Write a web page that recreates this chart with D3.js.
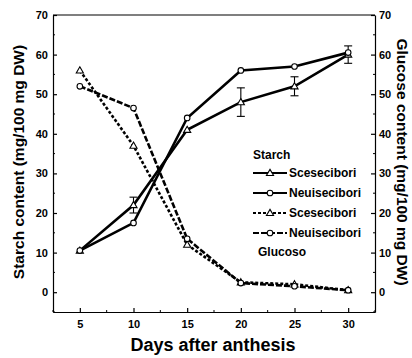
<!DOCTYPE html>
<html>
<head>
<meta charset="utf-8">
<script src="https://cdn.jsdelivr.net/npm/d3@7"></script>
<style>
    body { margin: 0; background: #fff; }
    svg { display: block; font-family: "Liberation Sans", Arial, sans-serif; font-weight: bold; }
    .axis path, .axis line { stroke: #000; stroke-width: 1.2; }
    .axis text { font-size: 11px; font-weight: bold; fill: #000; }
</style>
</head>
<body>
<div id="chart"></div>
<script>
// chart values
const days = [5, 10, 15, 20, 25, 30];
const starchSce = [10.5, 22, 41, 48, 52, 60];
const starchSceErr = [0, 2, 0, 3.6, 2.4, 2.2];
const starchNeu = [10.5, 17.5, 44, 56, 57, 60.5];
const glucoseSce = [56, 37, 12, 2.5, 2, 0.5];
const glucoseNeu = [52, 46.5, 13.5, 2.3, 1.5, 0.5];
const yTicks = [0, 10, 20, 30, 40, 50, 60, 70];
const legendLabels = ["Scesecibori", "Neuisecibori", "Scesecibori", "Neuisecibori"];

let width = 412, height = 358;

let svg = d3.select("#chart").append("svg")
    .attr("width", width)
    .attr("height", height);

let x = d3.scaleLinear().domain([2.5, 32.5]).range([53, 375]);
let y = d3.scaleLinear().domain([-5, 70]).range([312, 15]);

// frame top line
svg.append("line")
    .attr("x1", x(2.5)).attr("x2", x(32.5))
    .attr("y1", y(70)).attr("y2", y(70))
    .attr("stroke", "#000").attr("stroke-width", 1.2);

// axes, ticks pointing inside
svg.append("g")
    .attr("class", "axis")
    .attr("transform", "translate(0," + y(-5) + ")")
    .call(d3.axisBottom(x).tickValues(days).tickSize(-4).tickSizeOuter(0).tickPadding(8));

svg.append("g")
    .attr("class", "axis")
    .attr("transform", "translate(" + x(2.5) + ",0)")
    .call(d3.axisLeft(y).tickValues(yTicks).tickSize(-4).tickSizeOuter(0).tickPadding(5));

svg.append("g")
    .attr("class", "axis")
    .attr("transform", "translate(" + x(32.5) + ",0)")
    .call(d3.axisRight(y).tickValues(yTicks).tickSize(-4).tickSizeOuter(0).tickPadding(4));

// minor ticks
let minorX = d3.range(2.5, 32.6, 2.5).filter(d => days.indexOf(d) < 0);
svg.selectAll(".minor-x").data(minorX).enter().append("line")
    .attr("x1", d => x(d)).attr("x2", d => x(d))
    .attr("y1", y(-5)).attr("y2", y(-5) - 2)
    .attr("stroke", "#000");
let minorY = d3.range(-5, 70, 10);
[x(2.5), x(32.5)].forEach(function (px, i) {
    svg.selectAll(".minor-y" + i).data(minorY).enter().append("line")
        .attr("x1", px).attr("x2", px + (i == 0 ? 2 : -2))
        .attr("y1", d => y(d)).attr("y2", d => y(d))
        .attr("stroke", "#000");
});

// axis titles
svg.append("text")
    .attr("transform", "translate(24," + 162 + ") rotate(-90)")
    .attr("text-anchor", "middle")
    .attr("font-size", 15.5)
    .text("Starch content (mg/100 mg DW)");

svg.append("text")
    .attr("transform", "translate(397," + 162 + ") rotate(90)")
    .attr("text-anchor", "middle")
    .attr("font-size", 15.5)
    .text("Glucose content (mg/100 mg DW)");

svg.append("text")
    .attr("x", 213).attr("y", 351)
    .attr("text-anchor", "middle")
    .attr("font-size", 18)
    .text("Days after anthesis");

// series
let series = [
    {values: starchSce, shape: "tri", dash: null},
    {values: starchNeu, shape: "circ", dash: null},
    {values: glucoseSce, shape: "tri", dash: "3,2"},
    {values: glucoseNeu, shape: "circ", dash: "6,2"}
];

let line = d3.line()
    .x((d, i) => x(days[i]))
    .y(d => y(d));

let tri = d3.symbol().type(d3.symbolTriangle).size(22);

function drawMarker(g, shape, cx, cy) {
    if (shape == "tri") {
        g.append("path")
            .attr("d", tri)
            .attr("transform", "translate(" + cx + "," + (cy + 0.5) + ")")
            .attr("fill", "#fff").attr("stroke", "#000").attr("stroke-width", 1.1);
    } else {
        g.append("circle")
            .attr("cx", cx).attr("cy", cy).attr("r", 2.8)
            .attr("fill", "#fff").attr("stroke", "#000").attr("stroke-width", 1.1);
    }
}

// error bars for starch Scesecibori
let errG = svg.append("g");
starchSceErr.forEach(function (e, i) {
    if (e <= 0) return;
    let cx = x(days[i]);
    errG.append("line")
        .attr("x1", cx).attr("x2", cx)
        .attr("y1", y(starchSce[i] - e)).attr("y2", y(starchSce[i] + e))
        .attr("stroke", "#000").attr("stroke-width", 1.1);
    [starchSce[i] - e, starchSce[i] + e].forEach(function (v) {
        errG.append("line")
            .attr("x1", cx - 4).attr("x2", cx + 4)
            .attr("y1", y(v)).attr("y2", y(v))
            .attr("stroke", "#000").attr("stroke-width", 1.1);
    });
});

series.forEach(function (s) {
    svg.append("path")
        .datum(s.values)
        .attr("d", line)
        .attr("fill", "none")
        .attr("stroke", "#000")
        .attr("stroke-width", 2.6)
        .attr("stroke-dasharray", s.dash);
});

series.forEach(function (s) {
    let g = svg.append("g");
    s.values.forEach(function (v, i) {
        drawMarker(g, s.shape, x(days[i]), y(v));
    });
});

// legend
let legend = svg.append("g");
legend.append("text")
    .attr("x", 253).attr("y", 159)
    .attr("font-size", 12)
    .text("Starch");

series.forEach(function (s, i) {
    let ly = 173 + i * 20;
    legend.append("line")
        .attr("x1", 253).attr("x2", 287)
        .attr("y1", ly).attr("y2", ly)
        .attr("stroke", "#000").attr("stroke-width", 2)
        .attr("stroke-dasharray", s.dash);
    drawMarker(legend, s.shape, 270, ly);
    legend.append("text")
        .attr("x", 289).attr("y", ly + 4)
        .attr("font-size", 12)
        .text(legendLabels[i]);
});

legend.append("text")
    .attr("x", 258).attr("y", 256)
    .attr("font-size", 12)
    .text("Glucoso");
</script>
</body>
</html>
